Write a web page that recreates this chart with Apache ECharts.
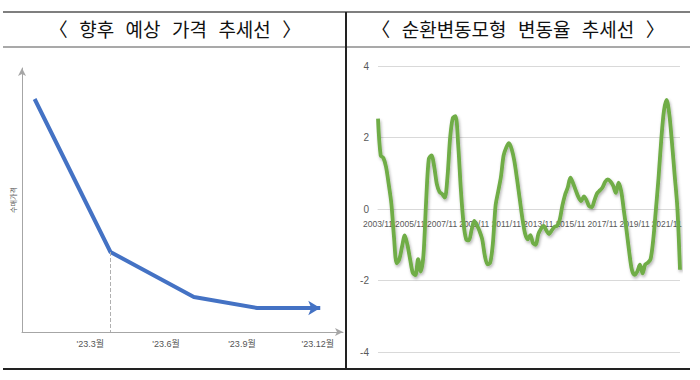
<!DOCTYPE html>
<html>
<head>
<meta charset="utf-8">
<script src="https://cdn.jsdelivr.net/npm/echarts@6/dist/echarts.min.js"></script>
<style>
html,body{margin:0;padding:0;background:#fff;}
#c{width:700px;height:380px;}
</style>
</head>
<body>
<div id="c"></div>
<script>
// ---- Left panel: expected price trend ----
const leftTitle = '〈 향후 예상 가격 추세선 〉';
const leftMonths = [0.8, 3.8, 7.1, 9.6, 12.1];
const leftPrice = [233, 80, 35, 24, 24];
const leftTicks = [3, 6, 9, 12];
const leftTickLabels = ["'23.3월", "'23.6월", "'23.9월", "'23.12월"];
const leftAxisName = '수매가격';

// ---- Right panel: cyclical variation rate ----
const rightTitle = '〈 순환변동모형 변동율 추세선 〉';
const rightStart = [2003, 11];   // first month, bimonthly steps
const rightTickLabels = ['2003/11','2005/11','2007/11','2009/11','2011/11','2013/11','2015/11','2017/11','2019/11','2021/11'];
const rightValues = [
  2.53, 1.5, 1.43, 1.18, 0.7, 0.15, -0.8, -1.52, -1.4, -1.05,
  -0.74, -1.0, -1.4, -1.78, -1.85, -1.4, -1.75, -1.3, 0.2, 1.4,
  1.5, 1.2, 0.7, 0.48, 0.42, 0.32, 0.9, 2.0, 2.55, 2.6,
  1.8, 0.55, -0.4, -0.85, -0.88, -0.59, -0.33, -0.45, -0.62, -0.85,
  -1.32, -1.55, -1.5, -0.95, 0.1, 0.5, 0.9, 1.5, 1.72, 1.84,
  1.68, 1.35, 0.85, 0.3, -0.25, -0.68, -0.85, -0.73, -0.95, -1.0,
  -0.7, -0.55, -0.47, -0.6, -0.7, -0.6, -0.5, -0.47, -0.3, 0.1,
  0.4, 0.6, 0.88, 0.72, 0.52, 0.33, 0.22, 0.35, 0.25, 0.08,
  0.05, 0.25, 0.44, 0.52, 0.6, 0.76, 0.83, 0.77, 0.65, 0.45,
  0.74, 0.5, -0.05, -0.6, -1.2, -1.7, -1.84, -1.75, -1.56, -1.8,
  -1.55, -1.5, -1.4, -0.85, 0.0, 0.9, 1.95, 2.75, 3.05, 2.65,
  1.85, 0.95, 0.05, -1.7
];
const rightYTicks = [-4, -2, 0, 2, 4];

const rightCategories = rightValues.map((v, i) => {
  const m0 = rightStart[1] - 1 + i * 2;
  const y = rightStart[0] + Math.floor(m0 / 12);
  const m = (m0 % 12) + 1;
  return y + '/' + (m < 10 ? '0' + m : m);
});

const FONT = "'Liberation Sans', 'Noto Sans CJK KR', sans-serif";
const TITLE_FONT = "'DejaVu Sans Mono', 'Noto Sans CJK KR', sans-serif";
const chart = echarts.init(document.getElementById('c'), null, {renderer: 'svg'});

const leftData = leftMonths.map((m, i) => {
  const item = {value: [m, leftPrice[i]]};
  if (i === leftMonths.length - 1) {
    item.symbol = 'arrow'; item.symbolSize = [11, 12]; item.symbolRotate = -90;
  }
  return item;
});
const rightData = rightValues.map((v, i) => {
  const item = {value: v};
  if (i === rightValues.length - 1) {
    item.symbol = 'arrow'; item.symbolSize = [11, 13]; item.symbolRotate = 180;
  }
  return item;
});

const RG_TOP = 66, RG_BOTTOM = 28;
const zeroOffset = -((380 - RG_BOTTOM) - (RG_TOP + (380 - RG_BOTTOM)) / 2);

chart.setOption({
  animation: false,
  textStyle: {fontFamily: FONT},
  grid: [
    {left: 22, right: 357, top: 68, bottom: 48},
    {left: 378, right: 20, top: RG_TOP, bottom: RG_BOTTOM}
  ],
  xAxis: [
    {
      gridIndex: 0, type: 'value', min: 0.3, max: 13,
      axisLine: {show: true, lineStyle: {color: '#a6a6a6', width: 1}, symbol: ['none', 'arrow'], symbolSize: [6, 8]},
      axisTick: {show: false},
      splitLine: {show: false},
      axisLabel: {
        customValues: leftTicks, fontSize: 9, color: '#555', margin: 7,
        formatter: v => leftTickLabels[leftTicks.indexOf(v)] || ''
      }
    },
    {
      gridIndex: 1, type: 'category', data: rightCategories, boundaryGap: false,
      offset: zeroOffset,
      axisLine: {show: true, onZero: false, lineStyle: {color: '#d9d9d9'}},
      axisTick: {show: false},
      axisLabel: {interval: 11, fontSize: 8.5, color: '#595959', margin: 11, hideOverlap: false,
        formatter: v => rightTickLabels.indexOf(v) >= 0 ? v : ''}
    }
  ],
  yAxis: [
    {
      gridIndex: 0, type: 'value', min: 0, max: 264,
      name: leftAxisName, nameLocation: 'middle', nameGap: 6,
      nameTextStyle: {fontSize: 7, color: '#555', fontFamily: "'Noto Sans CJK KR', sans-serif"},
      axisLine: {show: true, lineStyle: {color: '#a6a6a6', width: 1}, symbol: ['none', 'arrow'], symbolSize: [6, 8]},
      axisTick: {show: false}, axisLabel: {show: false}, splitLine: {show: false}
    },
    {
      gridIndex: 1, type: 'value', min: -4, max: 4, interval: 2,
      axisLine: {show: false}, axisTick: {show: false},
      axisLabel: {fontSize: 10, color: '#595959', margin: 9, customValues: rightYTicks},
      splitLine: {show: true, lineStyle: {color: '#d9d9d9', width: 1}}
    }
  ],
  series: [
    {
      type: 'line', xAxisIndex: 0, yAxisIndex: 0, data: leftData,
      symbol: 'none', showSymbol: true,
      lineStyle: {color: '#4472C4', width: 4},
      itemStyle: {color: '#4472C4'},
      markLine: {
        silent: true, symbol: 'none', label: {show: false},
        lineStyle: {type: 'dashed', color: '#b0b0b0', width: 1},
        data: [[{coord: [leftMonths[1], leftPrice[1]]}, {coord: [leftMonths[1], 0]}]]
      },
      z: 3
    },
    {
      type: 'line', xAxisIndex: 1, yAxisIndex: 1, data: rightData,
      symbol: 'none', showSymbol: true, smooth: 0.3,
      lineStyle: {color: '#70AD47', width: 3.8, shadowColor: 'rgba(0,0,0,0.3)', shadowBlur: 3, shadowOffsetX: 1, shadowOffsetY: 2},
      itemStyle: {color: '#70AD47'},
      z: 3
    }
  ],
  graphic: [
    {type: 'line', shape: {x1: 3, y1: 12, x2: 690, y2: 12}, style: {stroke: '#7f7f7f', lineWidth: 2}},
    {type: 'line', shape: {x1: 3, y1: 47, x2: 690, y2: 47}, style: {stroke: '#8c8c8c', lineWidth: 1.5}},
    {type: 'line', shape: {x1: 3, y1: 369, x2: 690, y2: 369}, style: {stroke: '#222', lineWidth: 2}},
    {type: 'line', shape: {x1: 346, y1: 12, x2: 346, y2: 369}, style: {stroke: '#222', lineWidth: 2}},
    {type: 'text', x: 175, y: 30, style: {text: leftTitle, fontSize: 19, fill: '#111', align: 'center', verticalAlign: 'middle', fontFamily: TITLE_FONT}},
    {type: 'text', x: 518, y: 30, style: {text: rightTitle, fontSize: 19, fill: '#111', align: 'center', verticalAlign: 'middle', fontFamily: TITLE_FONT}}
  ]
});
</script>
</body>
</html>
